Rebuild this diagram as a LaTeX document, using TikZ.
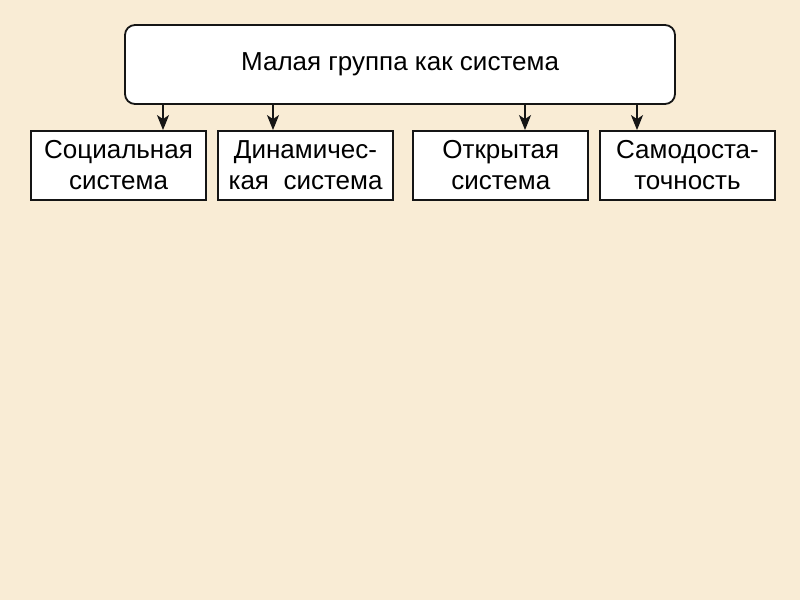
\documentclass[tikz,border=0pt]{standalone}
\usepackage{fontspec}
\setmainfont{Liberation Sans}
\usetikzlibrary{arrows.meta}
\definecolor{Paper}{HTML}{F9ECD5}
\definecolor{Ink}{HTML}{151515}

\begin{document}
\begin{tikzpicture}[x=1pt,y=1pt,
  topbox/.style={rounded corners=10pt,draw=Ink,fill=white,line width=1.8pt,
   minimum width=550pt,minimum height=79pt,inner sep=2pt,
   font=\fontsize{26}{31}\selectfont},
  kindbox/.style={draw=Ink,fill=white,line width=1.8pt,
   minimum width=175pt,minimum height=69pt,align=center,inner sep=2pt,
   font=\fontsize{26}{31}\selectfont}]
  \fill[Paper] (0,0) rectangle (800,-600);
  \node[topbox] (group) at (400,-64.5) {Малая группа как система};
  \node[kindbox] (social) at (118.5,-165.5) {Социальная\\система};
  \node[kindbox] (dynamic) at (305.5,-165.5) {Динамичес-\\кая\ \ система};
  \node[kindbox] (open) at (500.8,-165.5) {Открытая\\система};
  \node[kindbox] (self) at (687.5,-165.5) {Самодоста-\\точность};
  \draw[-{Stealth[length=15pt,width=12pt,inset=4pt]},line width=1.8pt,draw=Ink] (group.south -| 163,0) -- (social.north -| 163,0);
  \draw[-{Stealth[length=15pt,width=12pt,inset=4pt]},line width=1.8pt,draw=Ink] (group.south -| 273,0) -- (dynamic.north -| 273,0);
  \draw[-{Stealth[length=15pt,width=12pt,inset=4pt]},line width=1.8pt,draw=Ink] (group.south -| 525,0) -- (open.north -| 525,0);
  \draw[-{Stealth[length=15pt,width=12pt,inset=4pt]},line width=1.8pt,draw=Ink] (group.south -| 637,0) -- (self.north -| 637,0);
\end{tikzpicture}
\end{document}
